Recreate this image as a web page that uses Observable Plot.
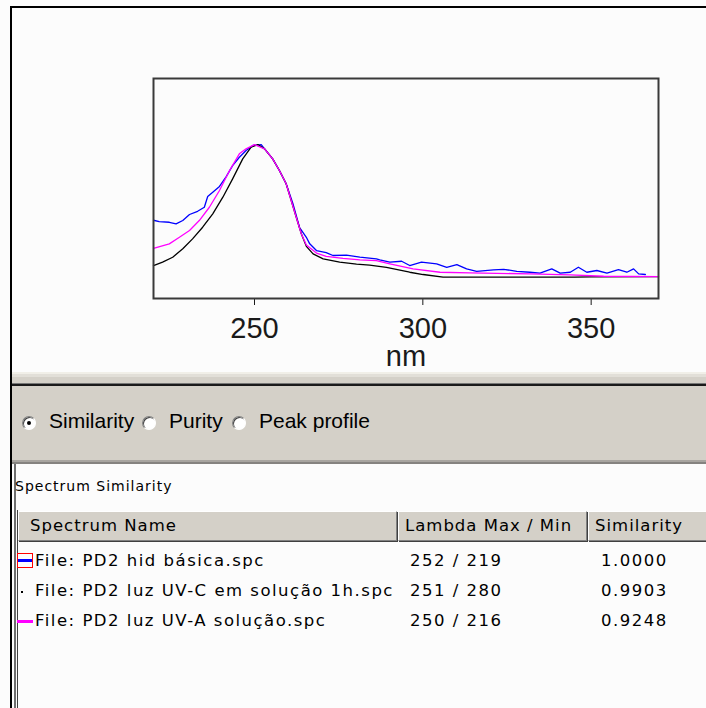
<!DOCTYPE html>
<html><head><meta charset="utf-8">
<script src="https://cdn.jsdelivr.net/npm/d3@7"></script>
<script src="https://cdn.jsdelivr.net/npm/@observablehq/plot@0.6"></script>
<style>
body{margin:0;background:#fcfcfc;width:706px;height:708px;overflow:hidden;position:relative;font-family:"DejaVu Sans",sans-serif;color:#000}
.abs{position:absolute}
.radio{position:absolute;width:12px;height:12px;border-radius:50%;background:#fff;border:1px solid;border-color:#808080 #fff #fff #808080;box-shadow:inset 1px 1px 0 #404040}
.dot{position:absolute;left:4px;top:4px;width:4px;height:4px;border-radius:50%;background:#000}
.rlab{position:absolute;font-family:"Liberation Sans",Arial,sans-serif;font-size:21px;transform-origin:0 50%;white-space:nowrap}
.cell{position:absolute;white-space:nowrap;font-size:16.5px;letter-spacing:1.5px}
.hdr{position:absolute;top:511px;height:28px;background:#d4d0c8;border-top:1px solid #fff;border-left:1px solid #fff;border-right:1px solid #808080;border-bottom:1px solid #808080;box-shadow:1px 1px 0 #404040}
</style></head><body>
<div id="chart" class="abs" style="left:0;top:0"></div>
<script>
// ---- spectra (wavelength nm, relative absorbance) ----
const hidNm  = [220,221.7,224.7,226.7,228.7,230.7,233.1,235.1,236.1,237.6,239.6,241.6,243.5,245.5,247.5,249.5,252,253,255.4,257.4,259.4,261.4,263.4,265.4,266.4,268.4,271.3,273.3,277.3,281.3,286.2,287.2,290.2,293.7,296.1,299.6,304.1,307.1,310.1,313,316,321,324,327.9,331.8,334.8,338.3,340.8,343.8,346.2,348.7,351.7,354.7,358.1,360.6,362.6,364.1,366.1];
const hidAbs = [0.435,0.425,0.42,0.408,0.433,0.478,0.502,0.532,0.612,0.644,0.687,0.761,0.843,0.905,0.955,0.993,1.0,0.968,0.893,0.806,0.707,0.56,0.38,0.308,0.259,0.209,0.194,0.172,0.175,0.16,0.147,0.14,0.122,0.129,0.097,0.122,0.11,0.084,0.104,0.072,0.054,0.065,0.069,0.054,0.047,0.04,0.072,0.04,0.047,0.084,0.047,0.06,0.04,0.067,0.047,0.072,0.035,0.03];

const uvcNm  = [220,222.7,225.7,228.7,231.6,234.6,237.6,240.6,243.5,246.5,249,251,253,255.4,257.4,259.4,260.9,262.4,263.9,265.4,267.4,270.4,275.3,280.3,284.2,289.2,296.1,300.1,306,320,345,350,370];
const uvcAbs = [0.097,0.122,0.159,0.222,0.296,0.383,0.483,0.607,0.744,0.893,0.98,1.0,0.968,0.893,0.806,0.707,0.582,0.457,0.334,0.24,0.184,0.147,0.122,0.107,0.1,0.084,0.047,0.03,0.01,0.01,0.01,0.013,0.014];

const uvaNm  = [220,224.7,227.7,230.7,233.6,236.6,239.6,242.6,245.5,247.5,250,253,255.4,257.4,259.4,260.9,262.4,263.9,265.4,268.4,271.3,276.3,281.3,286.2,290.2,297.1,305.1,314,331.8,343.8,353.7,370];
const uvaAbs = [0.226,0.259,0.308,0.358,0.433,0.532,0.657,0.806,0.931,0.968,1.0,0.968,0.893,0.806,0.707,0.582,0.457,0.334,0.25,0.19,0.165,0.15,0.14,0.134,0.11,0.072,0.047,0.042,0.035,0.028,0.017,0.015];

const xTicks = [250, 300, 350];

// ---- table / panel text ----
const radioOptions = ["Similarity", "Purity", "Peak profile"];
const panelTitle = "Spectrum Similarity";
const columns = ["Spectrum Name", "Lambda Max / Min", "Similarity"];
const fileNames = ["File: PD2 hid básica.spc", "File: PD2 luz UV-C em solução 1h.spc", "File: PD2 luz UV-A solução.spc"];
const lambdaMaxMin = ["252 / 219", "251 / 280", "250 / 216"];
const similarity = ["1.0000", "0.9903", "0.9248"];

const seriesColor = ["#0000ff", "#000000", "#ff00ff"];

const toRows = (nm, a) => nm.map((w, i) => ({nm: w, abs: a[i]}));

const chart = Plot.plot({
  width: 706, height: 372,
  marginLeft: 153, marginRight: 48, marginTop: 78, marginBottom: 74,
  style: {background: "transparent", fontFamily: "'Liberation Sans', Arial, sans-serif", fontSize: "29px", color: "#1a1a1a", overflow: "visible"},
  x: {domain: [220, 370], ticks: xTicks, tickSize: 7, tickPadding: 12, tickFormat: d => String(d), label: "nm", labelAnchor: "center", labelOffset: 67, labelArrow: "none"},
  y: {domain: [-0.149, 1.493], axis: null},
  marks: [
    Plot.line(toRows(hidNm, hidAbs), {x: "nm", y: "abs", stroke: seriesColor[0], strokeWidth: 1.3}),
    Plot.line(toRows(uvcNm, uvcAbs), {x: "nm", y: "abs", stroke: seriesColor[1], strokeWidth: 1.3}),
    Plot.line(toRows(uvaNm, uvaAbs), {x: "nm", y: "abs", stroke: seriesColor[2], strokeWidth: 1.3}),
    Plot.frame({stroke: "#3a3a3a", strokeWidth: 2})
  ]
});
document.getElementById("chart").appendChild(chart);

// ---- window chrome drawn as HTML ----
function box(l, t, w, h, bg) {
  const d = document.createElement("div");
  d.className = "abs";
  Object.assign(d.style, {left: l + "px", top: t + "px", width: w + "px", height: h + "px", background: bg});
  document.body.appendChild(d);
  return d;
}
function txt(parent, cls, s, l, t, extra) {
  const d = document.createElement("div");
  d.className = cls;
  d.textContent = s;
  Object.assign(d.style, {left: l + "px", top: t + "px"}, extra || {});
  parent.appendChild(d);
  return d;
}
box(10, 6, 696, 2, "#000");
box(10, 6, 2, 702, "#000");
box(12, 372, 694, 2, "#f1efe8");
box(12, 374, 694, 3, "#e2dfd8");
box(12, 377, 694, 6, "#d4d0c8");
box(12, 383, 694, 1, "#777");
box(12, 384, 694, 2, "#1a1a1a");
box(12, 386, 694, 74, "#d4d0c8");
box(12, 460, 694, 2, "#a8a5a0");
box(12, 462, 694, 2, "#858380");
box(14, 464, 2, 244, "#6e6e6e");

// radio buttons
const radioX = [22, 142, 232];
const labelX = [49, 169, 259];
radioOptions.forEach((s, i) => {
  const r = document.createElement("div");
  r.className = "radio";
  Object.assign(r.style, {left: radioX[i] + "px", top: "416px"});
  if (i === 0) { const d = document.createElement("div"); d.className = "dot"; r.appendChild(d); }
  document.body.appendChild(r);
  txt(document.body, "rlab", s, labelX[i], 409);
});

txt(document.body, "cell", panelTitle, 15, 478, {fontSize: "14px", letterSpacing: "1px"});

// table
box(17, 510, 689, 198, "#fcfcfc").style.borderLeft = "1px solid #404040";
const colL = [18, 398, 588];
const colW = [380, 190, 130];
columns.forEach((c, i) => {
  const h = document.createElement("div");
  h.className = "hdr";
  Object.assign(h.style, {left: colL[i] + "px", width: (colW[i] - 3) + "px"});
  document.body.appendChild(h);
  txt(h, "cell", c, i === 0 ? 11 : 6, 4, {letterSpacing: "1px"});
});
const rowTop = [551, 581, 611];
fileNames.forEach((f, i) => {
  txt(document.body, "cell", f, 35, rowTop[i]);
  txt(document.body, "cell", lambdaMaxMin[i], 410, rowTop[i]);
  txt(document.body, "cell", similarity[i], 601, rowTop[i]);
});
// row symbols
const ic = box(17, 553, 14, 13, "transparent");
ic.style.border = "1px solid #ff0000";
box(18, 559, 14, 3, seriesColor[0]);
box(21, 591, 2, 2, seriesColor[1]);
box(17, 620, 16, 3, seriesColor[2]);
</script>
</body></html>
